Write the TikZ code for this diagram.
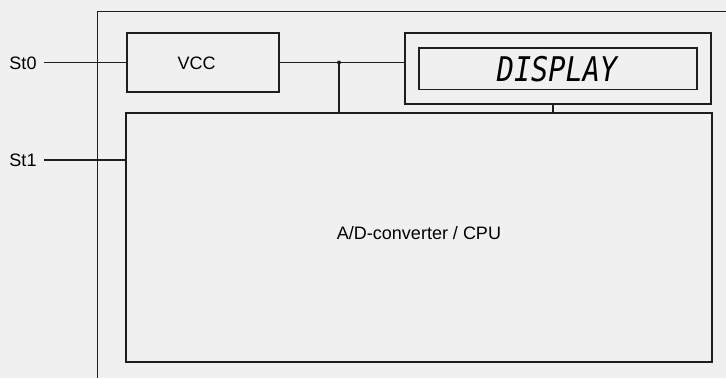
\documentclass[tikz,border=0pt]{standalone}
\usepackage{fontspec}
\setmainfont{Liberation Sans}
\newfontfamily\segfont{DejaVu Sans Mono}
\definecolor{bg}{HTML}{F0F0F0}
\definecolor{ln}{HTML}{1E1E1E}
\begin{document}
\begin{tikzpicture}[x=1pt,y=-1pt,
  wire/.style={draw=ln,line width=1.3pt},
  boxn/.style={draw=ln,line width=1.3pt,rectangle,inner sep=0pt,anchor=center},
  lbl/.style={font=\fontsize{18}{20}\selectfont,inner sep=0pt,text=black}]
\fill[bg] (0,0) rectangle (726,378);
\useasboundingbox (0,0) rectangle (726,378);
% outer frame (open to the right and bottom)
\draw[wire] (97.5,378) -- (97.5,11.5) -- (726,11.5);
% boxes
\node[boxn,minimum width=152pt,minimum height=59pt] (vcc) at (203,62.5) {};
\node[lbl] (vcct) at (196.7,63.5) {VCC};
\node[boxn,minimum width=306pt,minimum height=71pt] (dispo) at (558,68.5) {};
\node[boxn,minimum width=278pt,minimum height=41.6pt] (dispi) at (558,68.8) {};
\node[inner sep=0pt,font=\segfont\itshape\fontsize{34}{36}\selectfont,xscale=0.84] (dispt) at (557,69.5) {DISPLAY};
\node[boxn,minimum width=586pt,minimum height=249pt] (cpu) at (419,237.5) {};
\node[lbl] (cput) at (419,233.5) {A/D-converter / CPU};
% inputs
\node[lbl] (st0) at (23,63.5) {St0};
\node[lbl] (st1) at (23,160.5) {St1};
\coordinate (s0) at (44,62.5);
\coordinate (s1) at (44,160);
\draw[wire] (s0) -- (vcc.west);
\draw[wire] (s1) -- (s1 -| cpu.west);
% power bus
\coordinate (j) at (339,62.5);
\draw[wire] (vcc.east) -- (dispo.west |- vcc.east);
\draw[wire] (j) -- (j |- cpu.north);
\fill[ln] (j) circle (2pt);
\coordinate (d) at (553,104);
\draw[wire] (d |- dispo.south) -- (d |- cpu.north);
\end{tikzpicture}
\end{document}
